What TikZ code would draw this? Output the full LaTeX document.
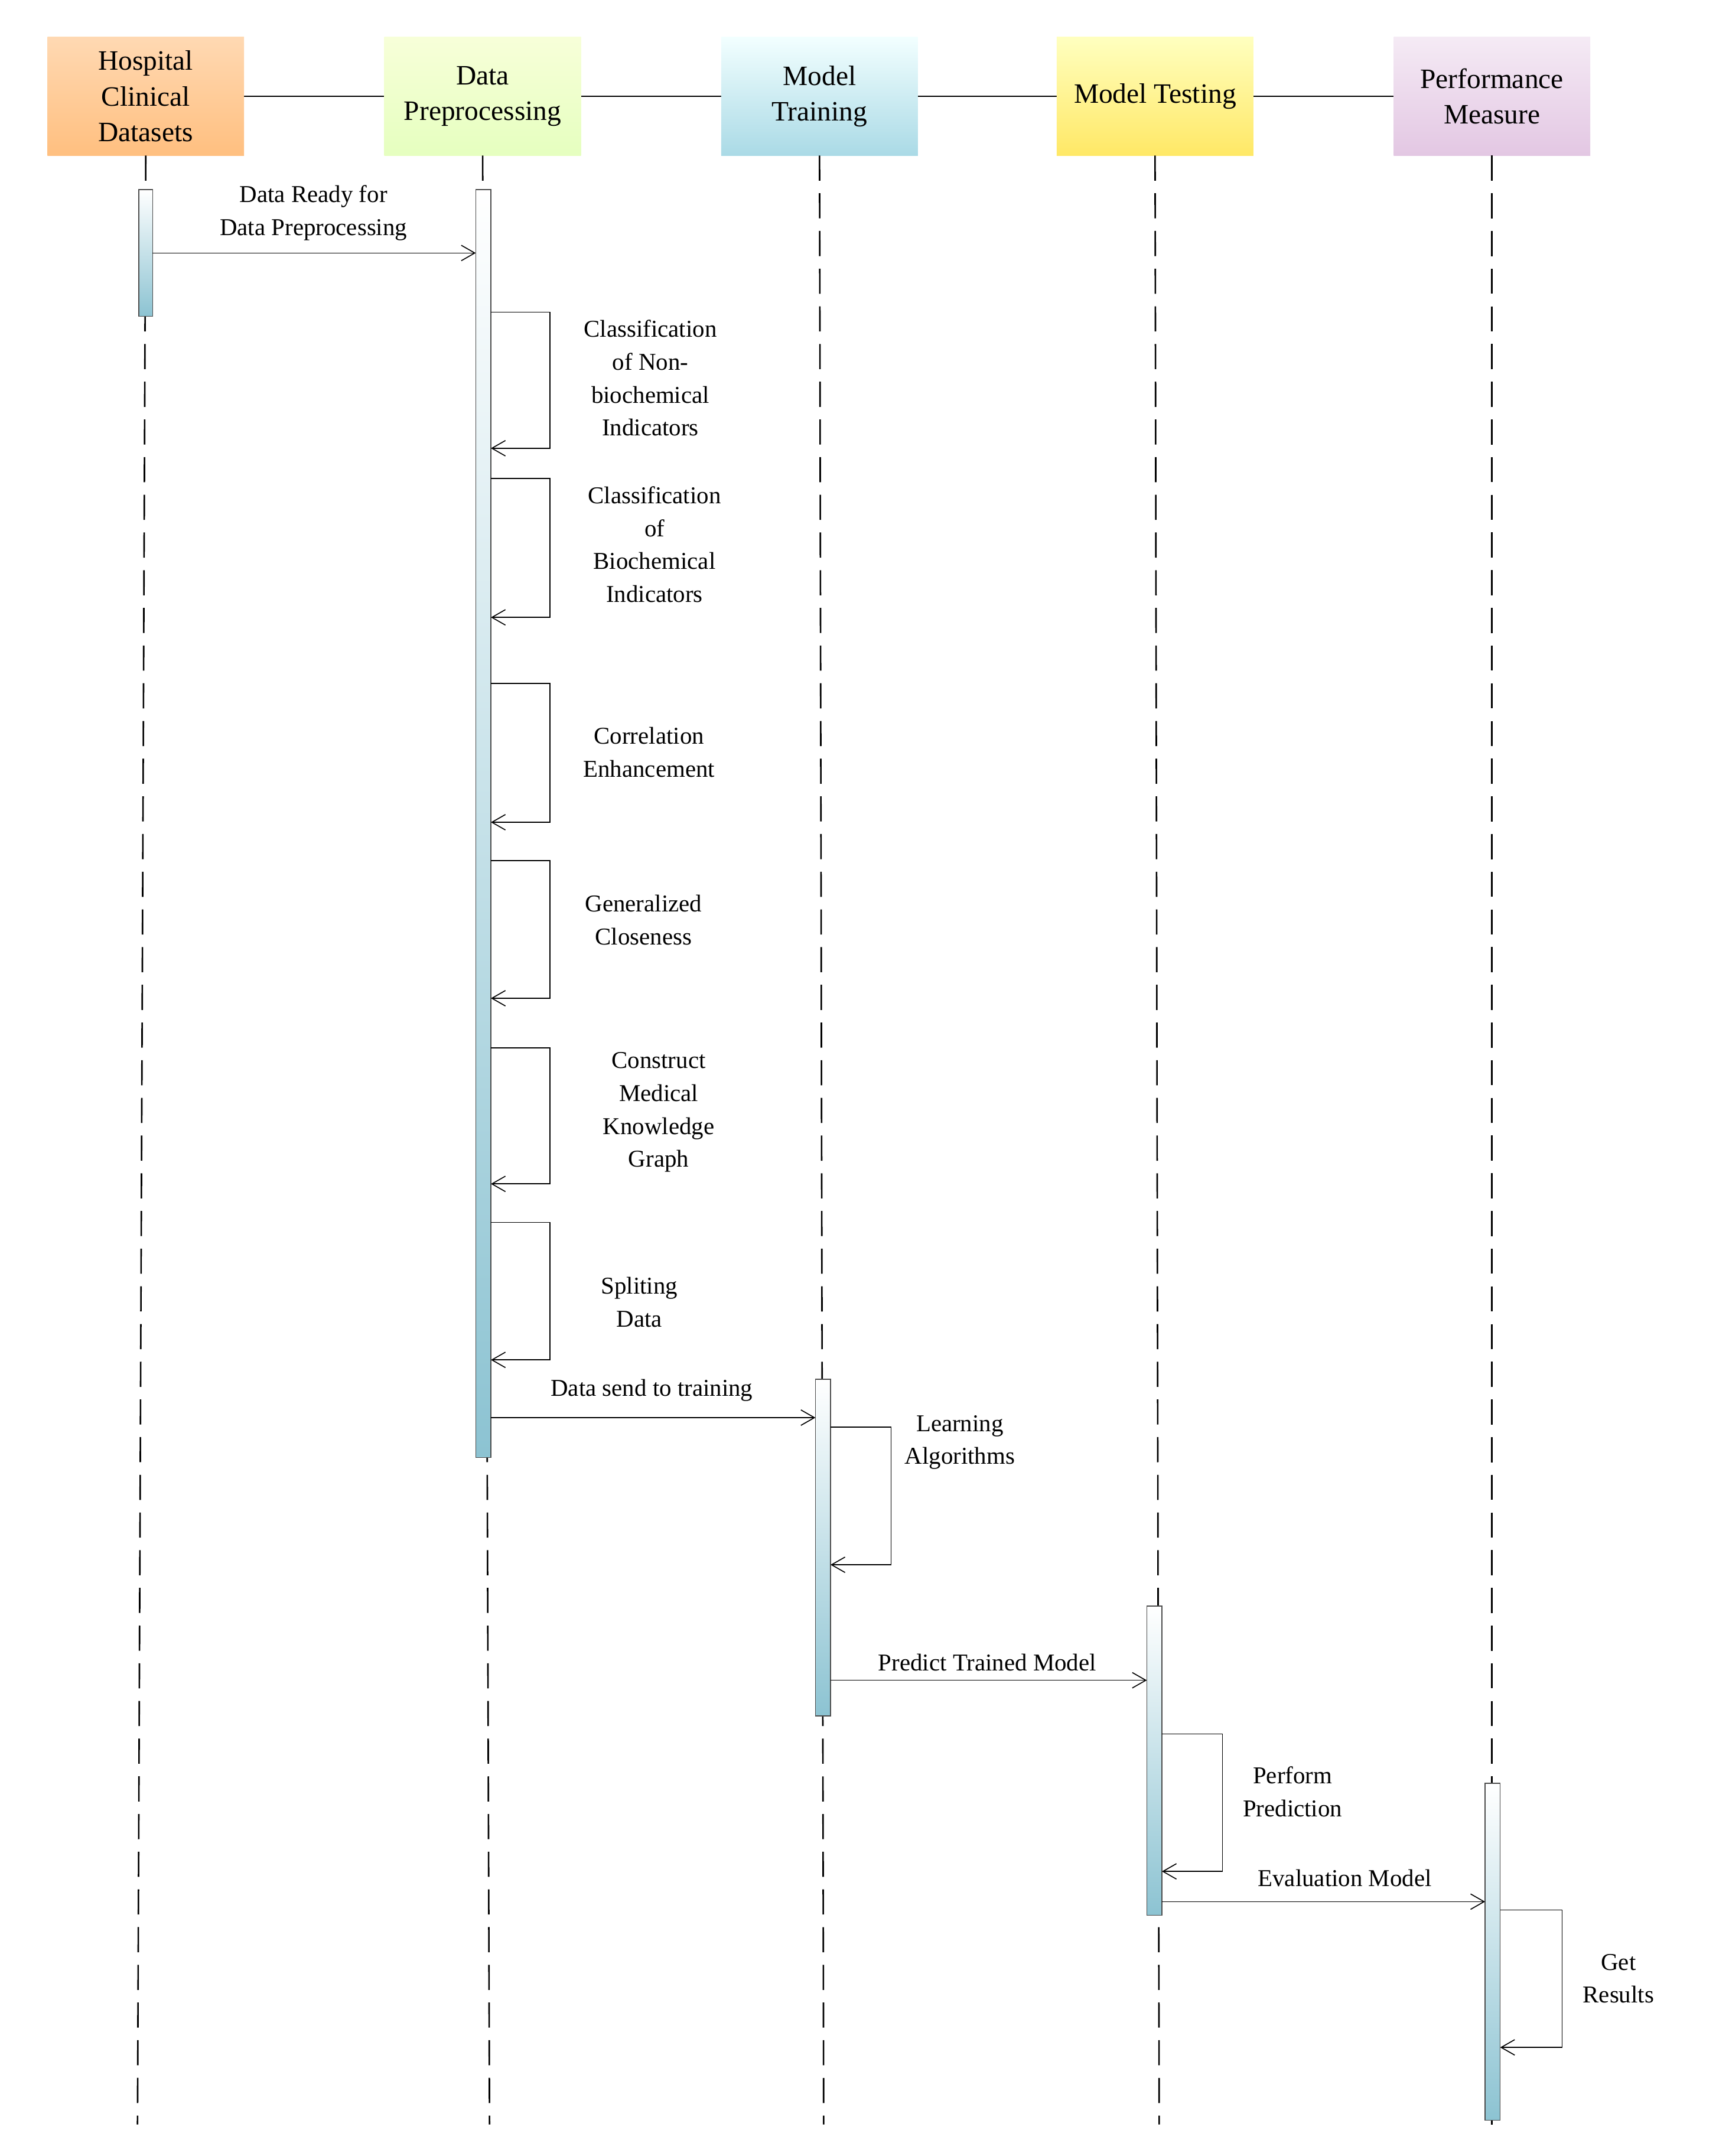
\documentclass[tikz,border=0pt]{standalone}
\usepackage{fontspec}
\setmainfont{Liberation Serif}
\usetikzlibrary{arrows.meta}
\definecolor{barc}{RGB}{140,195,210}
\definecolor{trc}{RGB}{170,218,230}
\begin{document}
\begin{tikzpicture}[x=0.05cm,y=-0.05cm,
  hdr/.style={minimum width=143*0.05cm,minimum height=86*0.05cm,inner sep=0pt,align=center,font=\fontsize{29}{37}\selectfont},
  lbl/.style={align=center,font=\fontsize{25}{34}\selectfont,inner sep=0pt},
  life/.style={line width=1.6pt,dash pattern=on 26pt off 13pt},
  bar/.style={draw=black!70,line width=1pt,top color=white,bottom color=barc},
  msg/.style={line width=1pt,-{Straight Barb[length=14pt,width=16pt]}}]
\useasboundingbox (0,0) rectangle (1257,1568);
\fill[white] (0,0) rectangle (1257,1568);
% header line
\draw[line width=1pt] (106,70) -- (1085,70);
\node[hdr,top color=orange!30,bottom color=orange!50,draw=none] (h1) at (106,70) {Hospital\\Clinical\\Datasets};
\node[hdr,top color=green!20!yellow!15,bottom color=green!40!yellow!25!white] (h2) at (351,70) {Data\\Preprocessing};
\node[hdr,top color=cyan!5,bottom color=trc] (h3) at (596,70) {Model\\Training};
\node[hdr,top color=yellow!25,bottom color=yellow!70!orange!60!white] (h4) at (840,70) {Model Testing};
\node[hdr,top color=violet!8,bottom color=violet!22!white] (h5) at (1085,70) {Performance\\Measure};
% lifelines
\coordinate (e1) at (100,1545); \coordinate (e2) at (356,1545); \coordinate (e3) at (599,1545); \coordinate (e4) at (843,1545); \coordinate (e5) at (1085,1545);
\foreach \i in {1,...,5}{\draw[life] (h\i.south) -- (e\i);}
% bars
\draw[bar] (101,138) rectangle (111,230);
\draw[bar] (346,138) rectangle (357,1060);
\draw[bar] (593,1003) rectangle (604,1248);
\draw[bar] (834,1168) rectangle (845,1393);
\draw[bar] (1080,1297) rectangle (1091,1542);
% messages
\coordinate (m1a) at (111,184); \coordinate (m1b) at (346,184);
\draw[msg] (m1a) -- (m1b);
\node[lbl] (t1) at (228,155) {Data Ready for\\Data Preprocessing};
\coordinate (m2a) at (357,1031); \coordinate (m2b) at (593,1031);
\draw[msg] (m2a) -- (m2b);
\node[lbl] (t2) at (474,1011) {Data send to training};
\coordinate (m3a) at (604,1222); \coordinate (m3b) at (834,1222);
\draw[msg] (m3a) -- (m3b);
\node[lbl] (t3) at (718,1209) {Predict Trained Model};
\coordinate (m4a) at (845,1383); \coordinate (m4b) at (1080,1383);
\draw[msg] (m4a) -- (m4b);
\node[lbl] (t4) at (978,1366) {Evaluation Model};
% self loops
\foreach \xa/\xb/\ya/\yb/\lx/\ly/\txt in {
 357/400/227/326/473/275/{Classification\\of Non-\\biochemical\\Indicators},
 357/400/348/449/476/396/{Classification\\of\\Biochemical\\Indicators},
 357/400/497/598/472/547/{Correlation\\Enhancement},
 357/400/626/726/468/669/{Generalized\\Closeness},
 357/400/762/861/479/809/{Construct\\Medical\\Knowledge\\Graph},
 357/400/889/989/465/947/{Spliting\\Data},
 604/648/1038/1138/698/1049/{Learning\\Algorithms},
 845/889/1261/1361/940/1303/{Perform\\Prediction},
 1091/1136/1389/1489/1177/1439/{Get\\Results}}{
 \draw[msg] (\xa,\ya) -- (\xb,\ya) -- (\xb,\yb) -- (\xa,\yb);
 \node[lbl] at (\lx,\ly) {\txt};
}
\end{tikzpicture}
\end{document}
